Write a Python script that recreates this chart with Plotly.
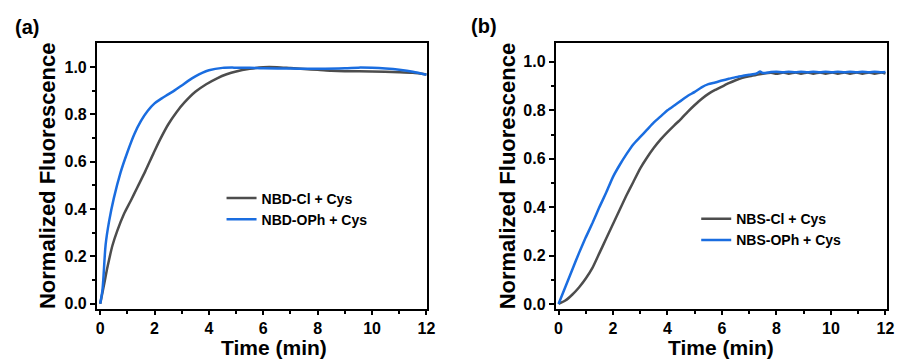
import plotly.graph_objects as go

# ---------------- Panel (a): NBD probes ----------------
time_a_cl = [0, 0.15, 0.27, 0.45, 0.63, 0.87, 1.12, 1.36, 1.66, 1.96, 2.21, 2.5, 2.8, 3.1,
             3.5, 3.9, 4.3, 4.65, 5.0, 5.5, 6.0, 6.5, 7.0, 7.5, 8.0, 8.5, 9.0, 10.0, 11.0, 11.5, 12.0]
nbd_cl = [0, 0.086, 0.156, 0.246, 0.309, 0.378, 0.434, 0.49, 0.56, 0.635, 0.695, 0.757, 0.808, 0.85,
          0.895, 0.927, 0.952, 0.969, 0.981, 0.992, 0.999, 0.999, 0.995, 0.991, 0.988, 0.984, 0.982,
          0.981, 0.978, 0.975, 0.968]

time_a_oph = [0, 0.085, 0.2, 0.33, 0.5, 0.75, 1.0, 1.25, 1.5, 1.75, 2.0, 2.25, 2.5, 2.75, 3.0, 3.25,
              3.5, 3.75, 4.0, 4.5, 5.0, 5.5, 6.0, 7.0, 8.0, 9.0, 9.5, 10.0, 10.5, 11.0, 11.5, 12.0]
nbd_oph = [0, 0.06, 0.25, 0.35, 0.445, 0.555, 0.64, 0.715, 0.772, 0.815, 0.846, 0.866, 0.884, 0.902,
           0.922, 0.942, 0.96, 0.975, 0.986, 0.996, 0.997, 0.996, 0.994, 0.993, 0.992, 0.994, 0.997,
           0.996, 0.993, 0.988, 0.98, 0.967]

# ---------------- Panel (b): NBS probes ----------------
time_b_cl = [0, 0.25, 0.5, 0.75, 1.0, 1.25, 1.5, 1.75, 2.0, 2.25, 2.5, 2.75, 3.0, 3.25, 3.5, 3.75,
             4.0, 4.25, 4.5, 4.75, 5.0, 5.25, 5.5, 5.75, 6.0, 6.25, 6.5, 6.75, 7.0, 7.25, 7.5, 7.8,
             8.0, 8.25, 8.45, 8.7, 8.9, 9.15, 9.35, 9.6, 9.8, 10.05, 10.25, 10.5, 10.7, 10.95, 11.15,
             11.4, 11.6, 11.85, 12.0]
nbs_cl = [0, 0.014, 0.038, 0.068, 0.105, 0.15, 0.21, 0.27, 0.33, 0.39, 0.45, 0.505, 0.56, 0.605,
          0.645, 0.68, 0.71, 0.738, 0.765, 0.795, 0.822, 0.847, 0.868, 0.884, 0.898, 0.912, 0.924,
          0.934, 0.941, 0.946, 0.951, 0.955, 0.951, 0.956, 0.951, 0.956, 0.951, 0.956, 0.951, 0.956,
          0.951, 0.956, 0.951, 0.956, 0.951, 0.956, 0.951, 0.956, 0.951, 0.956, 0.952]

time_b_oph = [0, 0.25, 0.5, 0.75, 1.0, 1.25, 1.5, 1.75, 2.0, 2.25, 2.5, 2.75, 3.0, 3.25, 3.5, 3.75,
              4.0, 4.25, 4.5, 4.75, 5.0, 5.25, 5.5, 5.75, 6.0, 6.25, 6.5, 6.75, 7.0, 7.25, 7.4, 7.5,
              7.8, 8.0, 8.25, 8.45, 8.7, 8.9, 9.15, 9.35, 9.6, 9.8, 10.05, 10.25, 10.5, 10.7, 10.95,
              11.15, 11.4, 11.6, 11.85, 12.0]
nbs_oph = [0, 0.07, 0.14, 0.21, 0.275, 0.335, 0.40, 0.46, 0.525, 0.575, 0.62, 0.66, 0.69, 0.72,
           0.75, 0.775, 0.80, 0.82, 0.84, 0.86, 0.876, 0.895, 0.908, 0.915, 0.923, 0.93, 0.937,
           0.942, 0.947, 0.951, 0.960, 0.954, 0.958, 0.959, 0.957, 0.959, 0.957, 0.959, 0.957,
           0.959, 0.957, 0.959, 0.957, 0.959, 0.957, 0.959, 0.957, 0.959, 0.957, 0.959, 0.957, 0.958]

x_ticks = [0, 2, 4, 6, 8, 10, 12]
y_ticks = [0.0, 0.2, 0.4, 0.6, 0.8, 1.0]
y_ticklabels = ["0.0", "0.2", "0.4", "0.6", "0.8", "1.0"]

GRAY = "#4d4d4d"
BLUE = "#1a6de0"
FONT = "Liberation Sans, Arial, sans-serif"
W, H = 903, 361

fig = go.Figure()
fig.add_trace(go.Scatter(x=time_a_cl, y=nbd_cl, mode="lines", name="NBD-Cl + Cys",
                         line=dict(color=GRAY, width=2.5, shape="spline", smoothing=0.8),
                         xaxis="x", yaxis="y", legend="legend"))
fig.add_trace(go.Scatter(x=time_a_oph, y=nbd_oph, mode="lines", name="NBD-OPh + Cys",
                         line=dict(color=BLUE, width=2.5, shape="spline", smoothing=0.8),
                         xaxis="x", yaxis="y", legend="legend"))
fig.add_trace(go.Scatter(x=time_b_cl, y=nbs_cl, mode="lines", name="NBS-Cl + Cys",
                         line=dict(color=GRAY, width=2.5, shape="spline", smoothing=0.5),
                         xaxis="x2", yaxis="y2", legend="legend2"))
fig.add_trace(go.Scatter(x=time_b_oph, y=nbs_oph, mode="lines", name="NBS-OPh + Cys",
                         line=dict(color=BLUE, width=2.5, shape="spline", smoothing=0.5),
                         xaxis="x2", yaxis="y2", legend="legend2"))

tickfont = dict(family=FONT, size=16, color="black", weight="bold")

def xaxis(domain, rng, anchor):
    return dict(domain=domain, range=rng, anchor=anchor, showline=True, linewidth=2,
                linecolor="black", mirror=True, ticks="outside", ticklen=4, tickwidth=2,
                tickcolor="black", tickvals=x_ticks, tickfont=tickfont, showgrid=False,
                zeroline=False, minor=dict(ticks="outside", ticklen=3, tickwidth=2,
                                           tickcolor="black", dtick=1, showgrid=False))

def yaxis(domain, rng, anchor):
    return dict(domain=domain, range=rng, anchor=anchor, showline=True, linewidth=2,
                linecolor="black", mirror=True, ticks="outside", ticklen=5, tickwidth=2,
                tickcolor="black", tickvals=y_ticks, ticktext=y_ticklabels, tickfont=tickfont,
                showgrid=False, zeroline=False,
                minor=dict(ticks="outside", ticklen=3, tickwidth=2, tickcolor="black",
                           tickvals=[0.1, 0.3, 0.5, 0.7, 0.9], showgrid=False))

ydom = [1 - 312 / H, 1 - 43 / H]
legfont = dict(family=FONT, size=14, color="black", weight="bold")

fig.update_layout(
    width=W, height=H, margin=dict(l=0, r=0, t=0, b=0),
    paper_bgcolor="white", plot_bgcolor="white",
    xaxis=xaxis([96 / W, 430 / W], [-0.12, 12.03], "y"),
    yaxis=yaxis(ydom, [-0.02, 1.103], "x"),
    xaxis2=xaxis([560 / W, 895 / W], [-0.1, 12.06], "y2"),
    yaxis2=yaxis(ydom, [-0.019, 1.08], "x2"),
    legend=dict(x=222 / W, y=1 - 184.5 / H, xanchor="left", yanchor="top", font=legfont,
                bgcolor="rgba(0,0,0,0)", itemwidth=30, tracegroupgap=0),
    legend2=dict(x=702 / W, y=1 - 205.5 / H, xanchor="left", yanchor="top", font=legfont,
                 bgcolor="rgba(0,0,0,0)", itemwidth=30, tracegroupgap=0),
    showlegend=True,
)

title_font = dict(family=FONT, size=21, color="black", weight="bold")
ann = [
    dict(text="Normalized Fluorescence", x=46 / W, y=1 - 177.5 / H, textangle=-90,
         font=dict(family=FONT, size=22, color="black", weight="bold")),
    dict(text="Normalized Fluorescence", x=511.5 / W, y=1 - 177.5 / H, textangle=-90,
         font=dict(family=FONT, size=22, color="black", weight="bold")),
    dict(text="Time (min)", x=275 / W, y=1 - 351.5 / H),
    dict(text="Time (min)", x=727.5 / W, y=1 - 351.5 / H),
    dict(text="(a)", x=25 / W, y=1 - 27 / H, font=dict(family=FONT, size=20, color="black", weight="bold")),
    dict(text="(b)", x=487.5 / W, y=1 - 26.5 / H, font=dict(family=FONT, size=20, color="black", weight="bold")),
]
for a in ann:
    fig.add_annotation(xref="paper", yref="paper", showarrow=False, xanchor="center",
                       yanchor="middle", borderpad=0, font=a.pop("font", title_font), **a)

fig.write_html("out.html")
